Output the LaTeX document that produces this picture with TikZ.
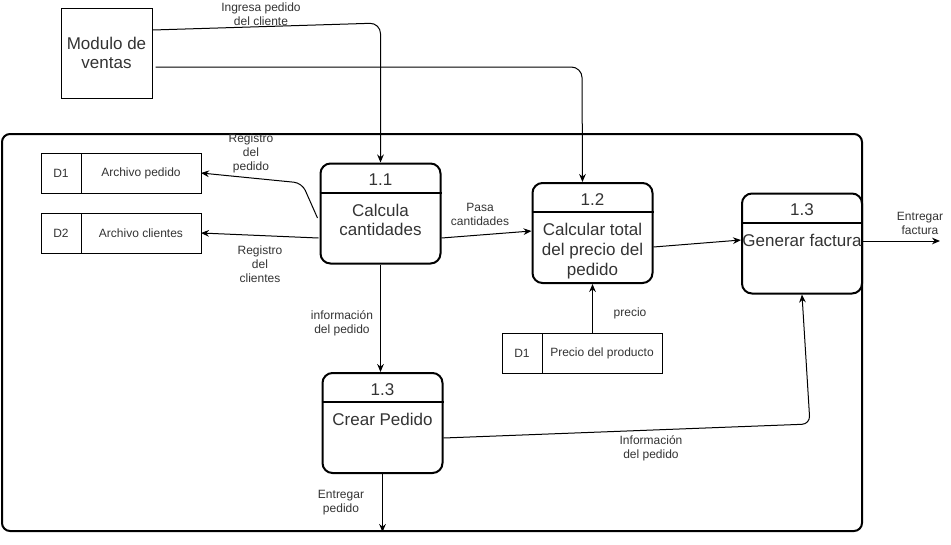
\documentclass[tikz,border=0pt]{standalone}
\usepackage{fontspec}
\setmainfont{Liberation Sans}
\usetikzlibrary{arrows.meta,positioning,calc}

\begin{document}
\begin{tikzpicture}[
    x=0.75pt, y=-0.75pt,
    every node/.style={font=\fontsize{9}{10.5}\selectfont, text=black!80},
    flow/.style={-{Stealth[length=6pt,width=5pt]}, line width=0.75pt},
    proc/.style={draw, line width=1.5pt, rounded corners=7.5pt,
        minimum width=90pt, minimum height=75pt, inner sep=0pt},
    procnum/.style={font=\fontsize{12.75}{14.8}\selectfont},
    proctext/.style={font=\fontsize{12.75}{14.8}\selectfont, align=center,
        anchor=north, inner sep=0pt},
    storeid/.style={draw, line width=0.75pt, minimum width=30pt,
        minimum height=30pt, inner sep=0pt, outer sep=0pt},
    storename/.style={draw, line width=0.75pt, minimum width=90pt,
        minimum height=30pt, inner sep=0pt, outer sep=0pt},
    lbl/.style={align=center}]
    \useasboundingbox (0,0) rectangle (951,544);

    % system boundary
    \draw[line width=1.5pt, rounded corners=6pt] (2,134) rectangle (862,531);

    % external entity
    \node[draw, line width=0.75pt, minimum width=68.25pt, minimum height=67.5pt,
        align=center, font=\fontsize{12.75}{14.8}\selectfont] (mod) at (106.5,53)
        {Modulo de\\ventas};

    % data stores
    \node[storeid] (d1i) at (61,173) {D1};
    \node[storename, right=0pt of d1i] (d1n) {Archivo pedido};
    \node[storeid] (d2i) at (61,233) {D2};
    \node[storename, right=0pt of d2i] (d2n) {Archivo clientes};
    \node[storeid] (d3i) at (522,353) {D1};
    \node[storename, right=0pt of d3i] (d3n) {Precio del producto};

    % processes
    \node[proc] (p11) at (380.5,213.5) {};
    \node[proc] (p12) at (592.5,233) {};
    \node[proc] (pfact) at (802,243.5) {};
    \node[proc] (pcrear) at (382.5,423) {};
    \foreach \p in {p11,p12,pfact,pcrear}
        \draw[line width=1.5pt] ($(\p.north west)+(0,30)$) -- ($(\p.north east)+(0,30)$);

    \node[procnum] (p11n) at ($(p11.north)+(0,17.5)$) {1.1};
    \node[proctext] (p11t) at ($(p11.north)+(0,41)$) {Calcula\\cantidades};
    \node[procnum] (p12n) at ($(p12.north)+(0,17.5)$) {1.2};
    \node[proctext] (p12t) at ($(p12.north)+(0,41)$) {Calcular total\\del precio del\\pedido};
    \node[procnum] (pfactn) at ($(pfact.north)+(0,17.5)$) {1.3};
    \node[proctext] (pfactt) at ($(pfact.north)+(0,41)$) {Generar factura};
    \node[procnum] (pcrearn) at ($(pcrear.north)+(0,17.5)$) {1.3};
    \node[proctext] (pcreart) at ($(pcrear.north)+(0,41)$) {Crear Pedido};

    % free ends and bends
    \coordinate (c1) at (380.5,23);
    \coordinate (c2) at (582,67);
    \coordinate (c3) at (302,183);
    \coordinate (c4) at (810,424);
    \coordinate (cout1) at (940,241);
    \coordinate (cout2) at (382.5,532);

    % flows
    \draw[flow, rounded corners=8pt] ($(mod.east)+(0,-23)$) -- (c1) -- (p11.north);
    \draw[flow, rounded corners=8pt] ($(mod.east)+(3,14)$) -- (c2) -- ($(p12.north)+(-10,0)$);
    \draw[flow, rounded corners=6pt] ($(p11.west)+(-2,4.5)$) -- (c3) -- (d1n.east);
    \draw[flow] ($(p11.west)+(-1,24.5)$) -- (d2n.east);
    \draw[flow] ($(p11.east)+(0,24.5)$) -- ($(p12.west)+(0,-2)$);
    \draw[flow] ($(p12.east)+(0,14)$) -- ($(pfact.west)+(0,-3.5)$);
    \draw[flow] ($(pfact.east)+(0,-2.5)$) -- (cout1);
    \draw[flow] (p12.south |- d3n.north) -- (p12.south);
    \draw[flow] (p11.south) -- (p11.south |- pcrear.north);
    \draw[flow, rounded corners=6pt] ($(pcrear.east)+(0,15)$) -- (c4) -- (pfact.south);
    \draw[flow] (pcrear.south) -- (cout2);

    % flow labels
    \node[lbl] (lingresa) at (261,14) {Ingresa pedido\\del cliente};
    \node[lbl] (lregped) at (251,153) {Registro\\del\\pedido};
    \node[lbl] (lregcli) at (260,264) {Registro\\del\\clientes};
    \node[lbl] (lpasa) at (480,214) {Pasa\\cantidades};
    \node[lbl] (lfact) at (920,223) {Entregar\\factura};
    \node[lbl] (lprecio) at (630,313) {precio};
    \node[lbl] (linfo1) at (342,323) {información\\del pedido};
    \node[lbl] (linfo2) at (651,448) {Información\\del pedido};
    \node[lbl] (lentrega) at (341,503) {Entregar\\pedido};
\end{tikzpicture}
\end{document}
